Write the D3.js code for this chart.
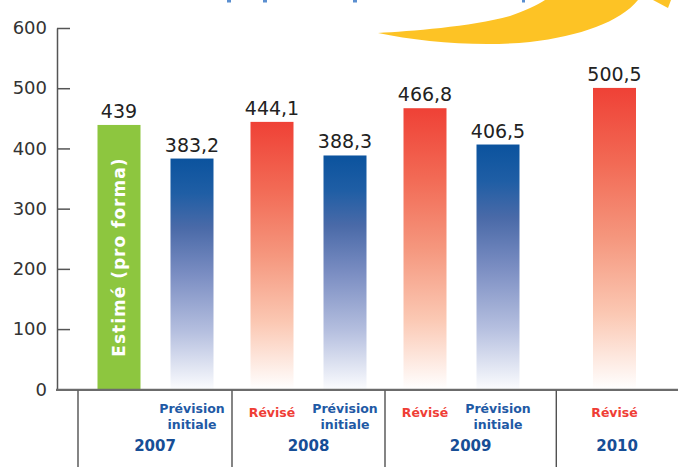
<!DOCTYPE html>
<html><head><meta charset="utf-8">
<script src="https://cdn.jsdelivr.net/npm/d3@7"></script>
<style>body{margin:0;background:#fff} svg{display:block}</style>
</head><body><svg id="c" width="678" height="467"></svg>
<script>
// ---- data ----
const years = ["2007", "2008", "2009", "2010"];
const barYears = ["2007", "2007", "2008", "2008", "2009", "2009", "2010"];
const barTypes = ["estime", "prevision", "revise", "prevision", "revise", "prevision", "revise"];
const barValues = [439, 383.2, 444.1, 388.3, 466.8, 406.5, 500.5];
const barLabels = ["439", "383,2", "444,1", "388,3", "466,8", "406,5", "500,5"];
const yTicks = [0, 100, 200, 300, 400, 500, 600];
const typeLines = { prevision: ["Prévision", "initiale"], revise: ["Révisé"], estime: [] };
const estimeLabel = "Estimé (pro forma)";

const bars = barValues.map((v, i) => ({ year: barYears[i], type: barTypes[i], value: v, label: barLabels[i] }));

// ---- layout ----
const W = 678, H = 467;
const axisX = 57, y0 = 389.3, yTop = 28;
const barW = 43;
const font = "'DejaVu Sans', Verdana, sans-serif";

const svg = d3.select("#c");
const defs = svg.append("defs");

function grad(id, stops) {
  const g = defs.append("linearGradient").attr("id", id).attr("x1", 0).attr("y1", 0).attr("x2", 0).attr("y2", 1);
  stops.forEach(s => g.append("stop").attr("offset", s[0]).attr("stop-color", s[1]));
}
grad("gRed", [[0, "#ef4136"], [0.25, "#f26a55"], [0.5, "#f5977e"], [0.75, "#fbc8b3"], [1, "#ffffff"]]);
grad("gBlue", [[0, "#0b539e"], [0.15, "#1f5ea5"], [0.3, "#4a6aa8"], [0.5, "#7a8dc2"], [0.75, "#b5bfdf"], [1, "#fbfcfe"]]);
const fills = { estime: "#8dc63f", revise: "url(#gRed)", prevision: "url(#gBlue)" };
const labelColors = { revise: "#ef3e36", prevision: "#1f5aa5" };

// decorative header remnants
svg.append("path").attr("fill", "#fdc325")
  .attr("d", "M378,33 C410,31 470,27 510,16 C525,11 537,5 545,0 L638,0 C620,22 580,36 530,42 C480,47 420,42 378,33 Z");
svg.append("path").attr("fill", "#fdc325").attr("d", "M653,0 L671,0 L668,8 Z");
[[227, 4], [263, 4], [353, 4], [522, 3]].forEach(d =>
  svg.append("rect").attr("x", d[0]).attr("y", 0).attr("width", d[1]).attr("height", 2.5).attr("fill", "#5b8fd0"));

// ---- scales ----
const y = d3.scaleLinear().domain([0, 600]).range([y0, yTop]);
const xGroup = d3.scaleBand().domain(years).range([78, 78 + 153 * years.length]);
const subScales = {};
years.forEach(yr => {
  subScales[yr] = d3.scalePoint().domain(bars.filter(b => b.year === yr).map(b => b.type)).range([41, 114]);
});
const cx = b => xGroup(b.year) + subScales[b.year](b.type);

// ---- bars ----
svg.append("g").selectAll("rect").data(bars).join("rect")
  .attr("x", b => cx(b) - barW / 2)
  .attr("y", b => y(b.value))
  .attr("width", barW)
  .attr("height", b => y(0) - y(b.value))
  .attr("fill", b => fills[b.type]);

// value labels
svg.append("g").selectAll("text").data(bars).join("text")
  .attr("x", b => cx(b))
  .attr("y", b => y(b.value) - 7)
  .attr("text-anchor", "middle")
  .attr("font-family", font).attr("font-size", 19).attr("fill", "#222")
  .text(b => b.label);

// label inside green bar
bars.filter(b => b.type === "estime").forEach(b => {
  const mid = (y(b.value) + y(0)) / 2;
  svg.append("text")
    .attr("transform", `translate(${cx(b) + 6},${mid}) rotate(-90)`)
    .attr("text-anchor", "middle")
    .attr("font-family", font).attr("font-size", 17).attr("font-weight", "bold")
    .attr("letter-spacing", 1).attr("fill", "#ffffff")
    .text(estimeLabel);
});

// ---- y axis ----
const yAxis = d3.axisLeft(y).tickValues(yTicks).tickSizeInner(-13).tickSizeOuter(0).tickPadding(10);
const ga = svg.append("g").attr("transform", `translate(${axisX},0)`).call(yAxis);
ga.select(".domain").attr("stroke", "#555").attr("stroke-width", 1.5);
ga.selectAll(".tick line").attr("stroke", "#555").attr("stroke-width", 1.5);
ga.selectAll(".tick text").attr("font-family", font).attr("font-size", 18).attr("fill", "#333");

// ---- x axis ----
svg.append("line").attr("x1", axisX - 1).attr("x2", W).attr("y1", y(0) + 0.5).attr("y2", y(0) + 0.5)
  .attr("stroke", "#6b6b6b").attr("stroke-width", 2.2);

// separators
const seps = [xGroup(years[0])];
for (let i = 1; i < years.length; i++) {
  const prev = bars.filter(b => b.year === years[i - 1]);
  const next = bars.filter(b => b.year === years[i]);
  const r = d3.max(prev, b => cx(b) + barW / 2);
  const l = d3.min(next, b => cx(b) - barW / 2);
  seps.push((r + l) / 2);
}
svg.append("g").selectAll("line").data(seps).join("line")
  .attr("x1", d => d).attr("x2", d => d).attr("y1", y(0) + 1.5).attr("y2", H)
  .attr("stroke", "#333").attr("stroke-width", 1.2);

// category labels
bars.forEach(b => {
  const lines = typeLines[b.type];
  if (!lines.length) return;
  const t = svg.append("text").attr("text-anchor", "middle")
    .attr("font-family", font).attr("font-size", 12.5).attr("font-weight", "bold")
    .attr("fill", labelColors[b.type]);
  const base = lines.length === 2 ? 413 : 417;
  lines.forEach((ln, i) => t.append("tspan").attr("x", cx(b)).attr("y", base + i * 15.5).text(ln));
});

// year labels
const yearCenters = years.map((yr, i) => {
  const l = seps[i], r = i + 1 < seps.length ? seps[i + 1] : W;
  return (l + r) / 2;
});
svg.append("g").selectAll("text").data(years).join("text")
  .attr("x", (d, i) => yearCenters[i])
  .attr("y", 451)
  .attr("text-anchor", "middle")
  .attr("font-family", font).attr("font-size", 15).attr("font-weight", "bold").attr("fill", "#174e96")
  .text(d => d);
</script>
</body></html>
